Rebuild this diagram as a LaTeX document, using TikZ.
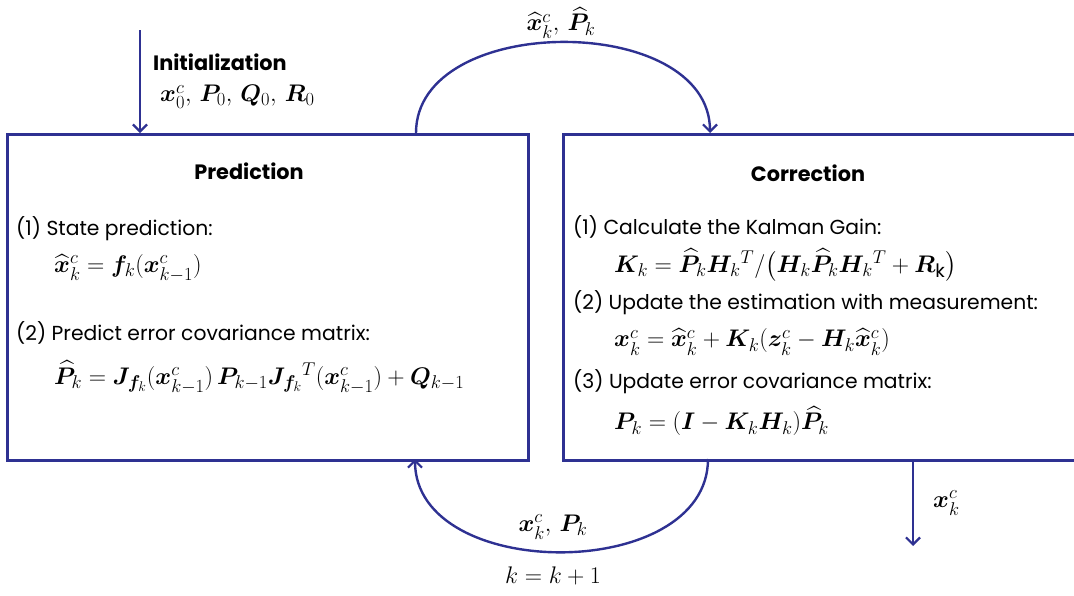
\RequirePackage{fix-cm}
\documentclass[tikz,border=0pt]{standalone}
\usepackage{amsmath}
\usepackage{bm}
\usepackage{fontspec}
\setmainfont{Poppins}
\DeclareMathSizes{24}{24}{18.5}{14}
\usetikzlibrary{arrows.meta}
\definecolor{kblue}{RGB}{46,49,146}
\tikzset{
  box/.style={draw=kblue, line width=2.6pt, anchor=north west, inner sep=0pt},
  arr/.style={draw=kblue, line width=2.4pt, -{Straight Barb[length=7pt,width=14pt,line width=2.2pt]}},
  txt/.style={anchor=west, inner sep=0pt, font=\fontsize{20.3}{23}\selectfont},
  ttl/.style={inner sep=0pt, font=\fontsize{20.8}{24}\selectfont\bfseries},
  eq/.style={anchor=west, inner sep=0pt, font=\fontsize{24}{27}\selectfont},
  mlab/.style={inner sep=0pt, font=\fontsize{24}{27}\selectfont},
}
\begin{document}
\begin{tikzpicture}[x=1pt,y=-1pt]
\useasboundingbox (0,0) rectangle (1074,595);
\clip (0,0) rectangle (1074,595);
\node[box, minimum width=521pt, minimum height=326pt] (pred) at (6,133) {};
\node[box, minimum width=540pt, minimum height=326pt] (corr) at (562,133) {};
% Prediction texts
\node[ttl] (ptitle) at (249,171) {Prediction};
\node[txt] (p1) at (16,229) {(1) State prediction:};
\node[eq] (pe1) at (54,268) {$\widehat{\bm{x}}_k^c = \bm{f}_k(\bm{x}_{k-1}^c)$};
\node[txt] (p2) at (16,333) {(2) Predict error covariance matrix:};
\node[eq] (pe2) at (54,377) {$\widehat{\bm{P}}_k = \bm{J}_{\bm{f}_k}(\bm{x}_{k-1}^c)\,\bm{P}_{k-1}\bm{J}_{\bm{f}_k}{}^T(\bm{x}_{k-1}^c) + \bm{Q}_{k-1}$};
% Correction texts
\node[ttl] (ctitle) at (808,173) {Correction};
\node[txt] (c1) at (573,227) {(1) Calculate the Kalman Gain:};
\node[eq] (ce1) at (614,265) {$\bm{K}_k = \widehat{\bm{P}}_k\bm{H}_k{}^T/\bigl(\bm{H}_k\widehat{\bm{P}}_k\bm{H}_k{}^T + \bm{R}_{\mathrm{k}}\bigr)$};
\node[txt] (c2) at (573,303) {(2) Update the estimation with measurement:};
\node[eq] (ce2) at (614,342) {$\bm{x}_k^c = \widehat{\bm{x}}_k^c + \bm{K}_k(\bm{z}_k^c - \bm{H}_k\widehat{\bm{x}}_k^c)$};
\node[txt] (c3) at (573,382) {(3) Update error covariance matrix:};
\node[eq] (ce3) at (614,421) {$\bm{P}_k = (\bm{I} - \bm{K}_k\bm{H}_k)\widehat{\bm{P}}_k$};
% Initialization
\coordinate (istart) at (140,30);
\draw[arr] (istart) -- (istart |- pred.north);
\node[ttl, anchor=west] (init) at (153,62) {Initialization};
\node[eq] (initv) at (160,97) {$\bm{x}_0^c,\, \bm{P}_0,\, \bm{Q}_0,\, \bm{R}_0$};
% top arc
\coordinate (ta) at (416,133);
\coordinate (tb) at (710,133);
\draw[arr] (ta) .. controls (416,12) and (710,12) .. (tb);
\node[mlab] (tlab) at (561,23) {$\widehat{\bm{x}}_k^c,\, \widehat{\bm{P}}_k$};
% bottom arc
\coordinate (ba) at (708,459);
\coordinate (bb) at (415,459);
\draw[arr] (ba) .. controls (708,583) and (415,583) .. (bb);
\node[mlab] (blab) at (553,527) {$\bm{x}_k^c,\, \bm{P}_k$};
\node[mlab] (kinc) at (553,576) {$k = k + 1$};
% output
\coordinate (oa) at (913,459);
\coordinate (ob) at (913,546);
\draw[arr] (oa) -- (ob);
\node[mlab, anchor=west] (olab) at (933,503) {$\bm{x}_k^c$};
\end{tikzpicture}
\end{document}
